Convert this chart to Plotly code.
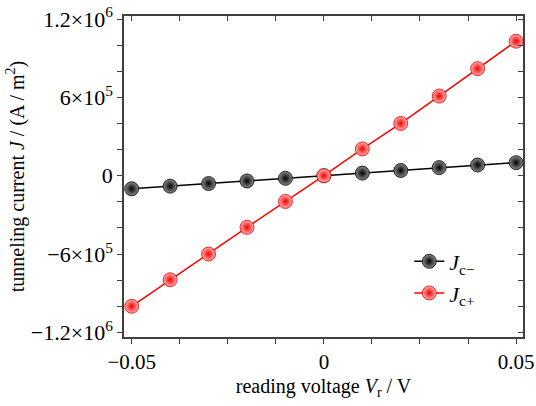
import plotly.graph_objects as go

V = [-0.05, -0.04, -0.03, -0.02, -0.01, 0.0, 0.01, 0.02, 0.03, 0.04, 0.05]
J_minus = [-1.0e5, -0.8e5, -0.6e5, -0.4e5, -0.2e5, 0.0, 0.2e5, 0.4e5, 0.62e5, 0.82e5, 1.0e5]
J_plus = [-1.0e6, -0.797e6, -0.6e6, -0.395e6, -0.197e6, 0.0, 0.205e6, 0.40e6, 0.61e6, 0.82e6, 1.03e6]

x_tickvals = [-0.05, -0.0375, -0.025, -0.0125, 0.0, 0.0125, 0.025, 0.0375, 0.05]
x_ticktext = ["\u22120.05", "", "", "", "0", "", "", "", "0.05"]
y_tickvals = [-1.2e6, -1.0e6, -0.8e6, -0.6e6, -0.4e6, -0.2e6, 0, 0.2e6, 0.4e6, 0.6e6, 0.8e6, 1.0e6, 1.2e6]
y_ticktext = ["\u22121.2\u00d710<sup>6</sup>", "", "", "\u22126\u00d710<sup>5</sup>", "", "", "0",
              "", "", "6\u00d710<sup>5</sup>", "", "", "1.2\u00d710<sup>6</sup>"]

FONT = "Times New Roman, Liberation Serif, serif"
XR = [-0.052, 0.0518]
YR = [-1.235e6, 1.223e6]

fig = go.Figure()
fig.add_trace(go.Scatter(
    x=V, y=J_minus, mode="lines+markers", name="<i>J</i><sub>c\u2212</sub>",
    line=dict(color="black", width=1.5),
    marker=dict(size=14, color="#8a8a8a", gradient=dict(type="radial", color="black"),
                line=dict(width=0.8, color="black")),
))
fig.add_trace(go.Scatter(
    x=V, y=J_plus, mode="lines+markers", name="<i>J</i><sub>c+</sub>",
    line=dict(color="#ff0000", width=1.5),
    marker=dict(size=14, color="#ffb0b0", gradient=dict(type="radial", color="#f00000"),
                line=dict(width=0.8, color="#e00000")),
))

axcol = "#404040"
common = dict(tickwidth=1.2, tickcolor=axcol, showline=True, linecolor=axcol,
              linewidth=1.5, showgrid=False, zeroline=False, automargin=False, ticklen=5)
fig.update_layout(
    width=536, height=406,
    margin=dict(l=124, r=13, t=16, b=69),
    paper_bgcolor="white", plot_bgcolor="white",
    font=dict(family=FONT, size=20, color="black"),
    showlegend=True,
    legend=dict(x=0.715, y=0.07, xanchor="left", yanchor="bottom",
                bgcolor="rgba(0,0,0,0)", font=dict(family=FONT, size=22), tracegroupgap=0),
    xaxis=dict(range=XR, tickvals=x_tickvals, ticktext=x_ticktext, ticks="outside",
               title=dict(text="reading voltage <i>V</i><sub>r</sub> / V", standoff=6,
                          font=dict(family=FONT, size=20)),
               tickfont=dict(family=FONT, size=21), **common),
    yaxis=dict(range=YR, tickvals=y_tickvals, ticktext=y_ticktext, ticks="outside",
               title=dict(text="tunneling current <i>J</i> / (A / m<sup>2</sup>)", standoff=1,
                          font=dict(family=FONT, size=20)),
               tickfont=dict(family=FONT, size=22), **common),
    xaxis2=dict(range=XR, overlaying="x", side="top", tickvals=x_tickvals, ticks="inside",
                showticklabels=False, **common),
    yaxis2=dict(range=YR, overlaying="y", side="right", tickvals=y_tickvals, ticks="inside",
                showticklabels=False, **common),
)
fig.add_trace(go.Scatter(x=[None], y=[None], xaxis="x2", yaxis="y2", showlegend=False,
                         hoverinfo="skip"))

fig.write_html("out.html")
